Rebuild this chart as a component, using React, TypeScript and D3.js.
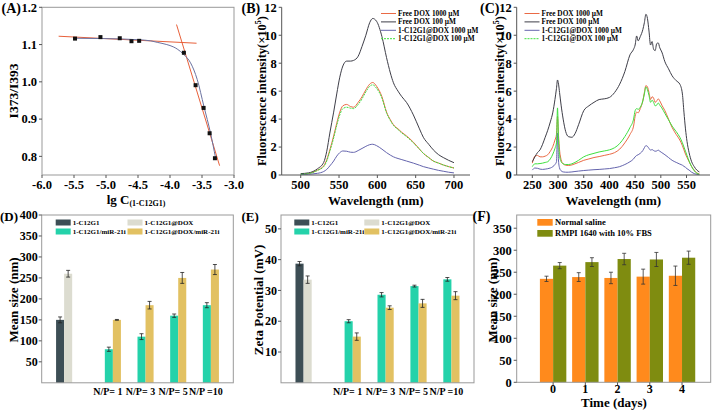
import React from 'react';
import * as d3 from 'd3';

const FONT = '"Liberation Serif", "Times New Roman", serif';

// ---------- Panel A data ----------
const cmcX = [-5.484, -5.087, -4.785, -4.602, -4.482, -3.783, -3.6, -3.475, -3.381, -3.298];
const cmcY = [1.116, 1.12, 1.117, 1.109, 1.11, 1.078, 0.991, 0.93, 0.862, 0.795];
const fitX = [-5.5, -5.0, -4.5, -4.3, -4.2, -4.05, -3.95, -3.887, -3.783, -3.679, -3.574, -3.47, -3.366, -3.287];
const fitY = [1.117, 1.116, 1.113, 1.11, 1.106, 1.1, 1.094, 1.088, 1.073, 1.051, 1.006, 0.934, 0.862, 0.795];
const tan1X = [-5.74, -3.585];
const tan1Y = [1.1224, 1.1036];
const tan2X = [-3.898, -3.225];
const tan2Y = [1.1537, 0.775];
const aYTicks = [0.8, 0.9, 1.0, 1.1, 1.2];
const aXTicks = [-6.0, -5.5, -5.0, -4.5, -4.0, -3.5, -3.0];

// ---------- Panel B data ----------
const specLabels = ['Free DOX 1000 \u00b5M', 'Free DOX 100 \u00b5M', '1-C12G1@DOX 1000 \u00b5M', '1-C12G1@DOX 100 \u00b5M'];
const bWave = [500, 510, 516, 522, 530, 534, 538, 543, 547, 551, 555, 560, 565, 569, 575, 580, 585, 590, 594, 599, 606, 612, 617, 621, 627, 632, 638, 647, 655, 660, 667, 673, 680, 686, 693, 700];
const bFree1000 = [0.05, 0.1, 0.2, 0.35, 0.65, 1.1, 1.8, 2.8, 3.7, 4.5, 4.95, 5.05, 4.9, 4.85, 5.2, 5.6, 6.1, 6.5, 6.62, 6.35, 5.6, 4.5, 3.95, 3.6, 3.3, 3.05, 2.8, 2.35, 1.85, 1.55, 1.25, 1.0, 0.85, 0.72, 0.6, 0.5];
const bFree100 = [0.1, 0.15, 0.25, 0.45, 0.9, 1.7, 3.0, 4.5, 5.8, 7.0, 7.8, 8.15, 8.15, 8.2, 8.5, 9.2, 10.0, 10.9, 11.2, 11.0, 9.9, 8.4, 7.3, 6.6, 6.0, 5.6, 5.2, 4.3, 3.3, 2.7, 2.2, 1.8, 1.45, 1.25, 1.05, 0.88];
const bNano1000 = [0.03, 0.05, 0.08, 0.12, 0.25, 0.4, 0.65, 1.0, 1.35, 1.6, 1.72, 1.7, 1.63, 1.62, 1.75, 1.9, 2.05, 2.17, 2.2, 2.1, 1.85, 1.6, 1.42, 1.3, 1.18, 1.1, 1.0, 0.85, 0.7, 0.6, 0.5, 0.42, 0.33, 0.27, 0.2, 0.15];
const bNano100 = [0.05, 0.1, 0.18, 0.33, 0.6, 1.0, 1.7, 2.65, 3.55, 4.3, 4.75, 4.85, 4.78, 4.75, 5.05, 5.45, 5.95, 6.35, 6.45, 6.2, 5.5, 4.45, 3.9, 3.55, 3.25, 3.0, 2.75, 2.3, 1.85, 1.55, 1.25, 1.0, 0.85, 0.72, 0.6, 0.5];
const bXTicks = [500, 550, 600, 650, 700];
const specYTicks = [0, 2, 4, 6, 8, 10, 12];

// ---------- Panel C data ----------
const cWave = [250, 255, 260, 265, 270, 275, 280, 285, 290, 294, 297, 299, 301, 303, 306, 310, 315, 320, 327, 333, 340, 350, 360, 370, 380, 390, 400, 410, 420, 430, 440, 447, 450, 453, 456, 460, 465, 468, 471, 474, 477, 480, 483, 486, 489, 492, 495, 498, 502, 508, 515, 522, 530, 537, 542, 545, 548, 551, 555, 560, 565, 570, 575];
const cFree100 = [0.95, 1.3, 1.6, 1.8, 2.2, 2.7, 3.2, 3.8, 4.5, 5.4, 6.2, 6.8, 6.5, 5.9, 5.0, 4.0, 3.1, 2.75, 2.7, 2.95, 3.6, 4.6, 4.95, 5.2, 5.4, 5.45, 5.55, 5.9, 6.5, 7.4, 8.6, 9.0, 9.3, 9.95, 9.6, 9.9, 10.4, 10.9, 11.5, 11.2, 10.3, 9.3, 9.55, 9.0, 8.9, 9.4, 9.45, 9.1, 8.8, 8.1, 7.6, 7.1, 6.75, 6.5, 5.8, 4.5, 3.3, 2.4, 1.6, 0.95, 0.6, 0.35, 0.22];
const cFree1000 = [0.85, 1.35, 1.4, 1.3, 1.3, 1.35, 1.45, 1.7, 2.05, 2.5, 2.9, 4.2, 2.8, 1.8, 1.1, 0.8, 0.7, 0.68, 0.72, 0.8, 0.9, 1.05, 1.15, 1.25, 1.32, 1.4, 1.48, 1.6, 1.85, 2.3, 2.9, 3.5, 4.2, 4.5, 4.45, 4.75, 5.3, 5.9, 6.4, 6.3, 5.9, 5.4, 5.6, 5.5, 5.2, 5.3, 5.45, 5.3, 5.0, 4.6, 4.0, 3.4, 2.9, 2.5, 2.1, 1.8, 1.5, 1.25, 0.95, 0.6, 0.35, 0.15, 0.08];
const cNano100 = [0.6, 0.8, 0.8, 0.82, 0.85, 0.9, 0.95, 1.15, 1.5, 1.9, 2.3, 4.8, 2.5, 1.4, 0.95, 0.8, 0.75, 0.75, 0.8, 0.9, 1.05, 1.3, 1.45, 1.55, 1.65, 1.72, 1.8, 1.95, 2.25, 2.75, 3.4, 4.0, 4.6, 4.75, 4.7, 4.85, 5.3, 5.8, 6.3, 6.1, 5.7, 5.2, 5.35, 5.2, 4.95, 5.0, 5.15, 5.0, 4.8, 4.4, 3.95, 3.5, 3.1, 2.7, 2.3, 2.0, 1.7, 1.4, 1.0, 0.6, 0.3, 0.12, 0.05];
const cNano1000 = [0.35, 0.5, 0.48, 0.42, 0.4, 0.42, 0.45, 0.5, 0.6, 0.75, 0.95, 3.0, 1.0, 0.5, 0.3, 0.22, 0.2, 0.2, 0.22, 0.25, 0.28, 0.32, 0.35, 0.38, 0.4, 0.43, 0.46, 0.52, 0.6, 0.75, 0.95, 1.15, 1.3, 1.4, 1.45, 1.55, 1.75, 1.95, 2.1, 2.05, 1.9, 1.78, 1.82, 1.75, 1.7, 1.72, 1.78, 1.7, 1.6, 1.45, 1.25, 1.05, 0.9, 0.78, 0.7, 0.62, 0.55, 0.45, 0.35, 0.2, 0.1, 0.05, 0.02];
const cXTicks = [250, 300, 350, 400, 450, 500, 550];

// ---------- Panel D / E data ----------
const npGroups = ['G0', 'N/P= 1', 'N/P= 3', 'N/P= 5', 'N/P =10'];
const npSeries = ['1-C12G1', '1-C12G1@DOX', '1-C12G1/miR-21i', '1-C12G1@DOX/miR-21i'];
const dSizeBare = [150, null, null, null, null];
const dSizeDox = [260, null, null, null, null];
const dSizeMir = [null, 80, 110, 160, 185];
const dSizeDoxMir = [null, 150, 185, 250, 270];
const dErrBare = [7, 0, 0, 0, 0];
const dErrDox = [8, 0, 0, 0, 0];
const dErrMir = [0, 5, 7, 4, 6];
const dErrDoxMir = [0, 1, 9, 13, 12];
const dYTicks = [50, 100, 150, 200, 250, 300, 350, 400];

const eZetaBare = [38.7, null, null, null, null];
const eZetaDox = [33.5, null, null, null, null];
const eZetaMir = [null, 20, 28.6, 31.4, 33.6];
const eZetaDoxMir = [null, 15, 24.4, 25.8, 28.3];
const eErrBare = [0.7, 0, 0, 0, 0];
const eErrDox = [1.2, 0, 0, 0, 0];
const eErrMir = [0, 0.5, 0.7, 0.3, 0.6];
const eErrDoxMir = [0, 1.2, 0.6, 1.3, 1.3];
const eYTicks = [10, 20, 30, 40, 50];

// ---------- Panel F data ----------
const fDays = ['0', '1', '2', '3', '4'];
const fSeries = ['Normal saline', 'RMPI 1640 with 10% FBS'];
const fSaline = [235, 239, 237, 240, 242];
const fSalineErr = [6, 10, 13, 17, 22];
const fRpmi = [265, 273, 280, 279, 283];
const fRpmiErr = [7, 10, 13, 16, 15];
const fYTicks = [0, 50, 100, 150, 200, 250, 300, 350];

const AXIS = '#555';
const BOX = '#999';
const C_RED = '#ea6a45';
const C_DARK = '#3e3e48';
const C_BLUE = '#6464ad';
const C_GREEN = '#3fe03f';
const NP_COLORS = ['#3d4e55', '#dcdcd0', '#24d2aa', '#e2c162'];
const F_COLORS = ['#ff8a1c', '#7f8c10'];

type Sc = d3.ScaleLinear<number, number>;

function YAxis({ y, x, ticks, fmt, fs = 12.5, len = 3, gap = 2 }: { y: Sc; x: number; ticks: number[]; fmt: (v: number) => string; fs?: number; len?: number; gap?: number }) {
  return (
    <g>
      {ticks.map((t) => (
        <g key={t}>
          <line x1={x - len} x2={x} y1={y(t)} y2={y(t)} stroke={AXIS} strokeWidth={1} />
          <text x={x - len - gap} y={y(t)} dy="0.35em" textAnchor="end" fontSize={fs}>{fmt(t)}</text>
        </g>
      ))}
    </g>
  );
}

function XAxis({ xs, y, ticks, fmt, fs = 12.5, len = 3 }: { xs: Sc; y: number; ticks: number[]; fmt: (v: number) => string; fs?: number; len?: number }) {
  return (
    <g>
      {ticks.map((t) => (
        <g key={t}>
          <line x1={xs(t)} x2={xs(t)} y1={y} y2={y + len} stroke={AXIS} strokeWidth={1} />
          <text x={xs(t)} y={y + len + 10.5} textAnchor="middle" fontSize={fs}>{fmt(t)}</text>
        </g>
      ))}
    </g>
  );
}

function PanelA() {
  const x = d3.scaleLinear().domain([-6, -3]).range([42, 234]);
  const y = d3.scaleLinear().domain([0.75, 1.2]).range([175, 7.3]);
  const fit = d3.line<number>().x((_, i) => x(fitX[i])).y((d) => y(d)).curve(d3.curveMonotoneX);
  return (
    <g>
      <rect x={42} y={y(1.2)} width={192} height={175 - y(1.2)} fill="none" stroke={BOX} />
      <line x1={x(tan1X[0])} y1={y(tan1Y[0])} x2={x(tan1X[1])} y2={y(tan1Y[1])} stroke="#e8603a" strokeWidth={1} />
      <line x1={x(tan2X[0])} y1={y(tan2Y[0])} x2={x(tan2X[1])} y2={y(tan2Y[1])} stroke="#e8603a" strokeWidth={1} />
      <path d={fit(fitY) || ''} fill="none" stroke="#6b72a0" strokeWidth={1} />
      {cmcX.map((v, i) => (
        <rect key={i} x={x(v) - 2} y={y(cmcY[i]) - 2} width={4} height={4} fill="#111" />
      ))}
      <YAxis y={y} x={42} ticks={aYTicks} fmt={(v) => v.toFixed(1)} />
      <XAxis xs={x} y={175} ticks={aXTicks} fmt={(v) => v.toFixed(1)} />
      <text x={13} y={91} transform="rotate(-90 13 91)" dy="0.35em" textAnchor="middle" fontSize={13.5}>I373/I393</text>
      <text x={136} y={204} textAnchor="middle" fontSize={13}>lg C<tspan fontSize={8} dy={2}>(1-C12G1)</tspan></text>
      <text x={1.5} y={13} fontSize={14}>(A)</text>
    </g>
  );
}

function SpecLegend({ x0, y0, colors, dashes }: { x0: number; y0: number; colors: string[]; dashes: (string | undefined)[] }) {
  return (
    <g>
      {specLabels.map((l, i) => (
        <g key={l}>
          <line x1={x0} x2={x0 + 15} y1={y0 + i * 8.4} y2={y0 + i * 8.4} stroke={colors[i]} strokeWidth={1} strokeDasharray={dashes[i]} />
          <text x={x0 + 17} y={y0 + i * 8.4} dy="0.35em" fontSize={7.3}>{l}</text>
        </g>
      ))}
    </g>
  );
}

function SpecPanel({ x0, x1, dom, waves, series, colors, dashes, ticks, letter, letterX, ylabX, legX }: any) {
  const x = d3.scaleLinear().domain(dom).range([x0, x1]);
  const y = d3.scaleLinear().domain([0, 12]).range([175, 7.3]);
  return (
    <g>
      {series.map((s: number[], i: number) => {
        const ln = d3.line<number>().x((_, j) => x(waves[j])).y((d) => y(d)).curve(d3.curveMonotoneX);
        return <path key={i} d={ln(s) || ''} fill="none" stroke={colors[i]} strokeWidth={1} strokeDasharray={dashes[i]} />;
      })}
      <line x1={x0} x2={x0} y1={y(12)} y2={175} stroke={AXIS} />
      <line x1={x0} x2={x1} y1={175} y2={175} stroke={AXIS} />
      <YAxis y={y} x={x0} ticks={specYTicks} fmt={(v) => String(v)} />
      <XAxis xs={x} y={175} ticks={ticks} fmt={(v) => String(v)} />
      <text x={ylabX} y={91} transform={`rotate(-90 ${ylabX} 91)`} dy="0.35em" textAnchor="middle" fontSize={12.5}>
        Fluorescence intensity(×10<tspan fontSize={8} dy={-5}>5</tspan><tspan dy={5}>)</tspan>
      </text>
      <text x={(x0 + x1) / 2} y={205} textAnchor="middle" fontSize={13}>Wavelength (nm)</text>
      <text x={letterX} y={13} fontSize={14}>{letter}</text>
      <SpecLegend x0={legX} y0={13.5} colors={[C_RED, C_DARK, C_BLUE, C_GREEN]} dashes={[undefined, undefined, undefined, '2,1']} />
    </g>
  );
}

function NpPanel({ x0, x1, dom, yTicks, values, errs, letter, letterX, ylab, ylabX, legX, legX2 }: any) {
  const yTop = 215;
  const yBot = 382.8;
  const y = d3.scaleLinear().domain(dom).range([yBot, yTop]);
  const gx = d3.scaleBand<string>().domain(npGroups).range([x0, x1]).paddingInner(0.015).paddingOuter(0.44);
  const sx = d3.scaleBand<string>().domain(npSeries).range([0, gx.bandwidth()]);
  return (
    <g>
      {npSeries.map((s, si) =>
        npGroups.map((g, gi) => {
          const v = values[si][gi];
          if (v == null) return null;
          const bx = (gx(g) as number) + (sx(s) as number);
          const bw = sx.bandwidth();
          const e = errs[si][gi];
          const cx = bx + bw / 2;
          return (
            <g key={s + g}>
              <rect x={bx} y={y(v)} width={bw} height={yBot - y(v)} fill={NP_COLORS[si]} />
              <line x1={cx} x2={cx} y1={y(v + e)} y2={y(v - e)} stroke="#222" strokeWidth={0.8} />
              <line x1={cx - 2} x2={cx + 2} y1={y(v + e)} y2={y(v + e)} stroke="#222" strokeWidth={0.8} />
              <line x1={cx - 2} x2={cx + 2} y1={y(v - e)} y2={y(v - e)} stroke="#222" strokeWidth={0.8} />
            </g>
          );
        })
      )}
      <rect x={x0} y={yTop} width={x1 - x0} height={yBot - yTop} fill="none" stroke={BOX} />
      <YAxis y={y} x={x0} ticks={yTicks} fmt={(v) => String(v)} fs={12} gap={1} />
      {npGroups.slice(1).map((g) => (
        <text key={g} x={(gx(g) as number) + gx.bandwidth() / 2 + 3} y={395} textAnchor="middle" fontSize={10}>{g}</text>
      ))}
      <text x={ylabX} y={300} transform={`rotate(-90 ${ylabX} 300)`} dy="0.35em" textAnchor="middle" fontSize={13}>{ylab}</text>
      <text x={letterX} y={221} fontSize={13}>{letter}</text>
      {npSeries.map((s, i) => {
        const lx = i % 2 === 0 ? legX : legX2;
        const ly = i < 2 ? 219.5 : 228.5;
        return (
          <g key={s}>
            <rect x={lx} y={ly} width={15} height={6} fill={NP_COLORS[i]} />
            <text x={lx + 17} y={ly + 3} dy="0.35em" fontSize={7}>{s}</text>
          </g>
        );
      })}
    </g>
  );
}

function PanelF() {
  const x0 = 516.7, x1 = 710.7, yTop = 215, yBot = 382.3;
  const y = d3.scaleLinear().domain([0, 380]).range([yBot, yTop]);
  const gx = d3.scaleBand<string>().domain(fDays).range([x0, x1]).paddingInner(0.18).paddingOuter(0.6).align(0.6);
  const sx = d3.scaleBand<string>().domain(fSeries).range([0, gx.bandwidth()]);
  const vals = [fSaline, fRpmi];
  const errs = [fSalineErr, fRpmiErr];
  return (
    <g>
      {fSeries.map((s, si) =>
        fDays.map((d, di) => {
          const v = vals[si][di];
          const e = errs[si][di];
          const bx = (gx(d) as number) + (sx(s) as number);
          const bw = sx.bandwidth();
          const cx = bx + bw / 2;
          return (
            <g key={s + d}>
              <rect x={bx} y={y(v)} width={bw} height={yBot - y(v)} fill={F_COLORS[si]} />
              <line x1={cx} x2={cx} y1={y(v + e)} y2={y(v - e)} stroke="#333" strokeWidth={0.8} />
              <line x1={cx - 2} x2={cx + 2} y1={y(v + e)} y2={y(v + e)} stroke="#333" strokeWidth={0.8} />
              <line x1={cx - 2} x2={cx + 2} y1={y(v - e)} y2={y(v - e)} stroke="#333" strokeWidth={0.8} />
            </g>
          );
        })
      )}
      <rect x={x0} y={yTop} width={x1 - x0} height={yBot - yTop} fill="none" stroke={BOX} />
      <YAxis y={y} x={x0} ticks={fYTicks} fmt={(v) => String(v)} />
      {fDays.map((d) => {
        const cx = (gx(d) as number) + gx.bandwidth() / 2;
        return (
          <g key={d}>
            <line x1={cx} x2={cx} y1={yBot} y2={yBot + 3} stroke={AXIS} />
            <text x={cx} y={393} textAnchor="middle" fontSize={12}>{d}</text>
          </g>
        );
      })}
      <text x={614} y={407} textAnchor="middle" fontSize={13}>Time (days)</text>
      <text x={492} y={300} transform="rotate(-90 492 300)" dy="0.35em" textAnchor="middle" fontSize={13}>Mean size (nm)</text>
      <text x={472.5} y={221} fontSize={14}>(F)</text>
      {fSeries.map((s, i) => (
        <g key={s}>
          <rect x={537.3} y={219 + i * 11} width={15.4} height={6.7} fill={F_COLORS[i]} />
          <text x={555} y={222.4 + i * 11} dy="0.35em" fontSize={8.5}>{s}</text>
        </g>
      ))}
    </g>
  );
}

export default function App() {
  return (
    <svg width={713} height={410} style={{ position: 'absolute', left: 0, top: 0, background: '#fff' }} fontFamily={FONT} fontWeight="bold">
      <rect width={713} height={410} fill="#fff" />
      <PanelA />
      <SpecPanel x0={281.7} x1={470} dom={[475.2, 720.9]} waves={bWave}
        series={[bFree1000, bFree100, bNano1000, bNano100]} colors={[C_RED, C_DARK, C_BLUE, C_GREEN]} dashes={[undefined, undefined, undefined, '2,1']}
        ticks={bXTicks} letter="(B)" letterX={241.5} ylabX={262} legX={381} />
      <SpecPanel x0={516.7} x1={710} dom={[219.6, 595.7]} waves={cWave}
        series={[cFree1000, cFree100, cNano1000, cNano100]} colors={[C_RED, C_DARK, C_BLUE, C_GREEN]} dashes={[undefined, undefined, undefined, undefined]}
        ticks={cXTicks} letter="(C)" letterX={480} ylabX={500} legX={524.5} />
      <NpPanel x0={41.7} x1={233.3} dom={[0, 400]} yTicks={dYTicks}
        values={[dSizeBare, dSizeDox, dSizeMir, dSizeDoxMir]} errs={[dErrBare, dErrDox, dErrMir, dErrDoxMir]}
        letter="(D)" letterX={0} ylab="Mean size (nm)" ylabX={13} legX={55.7} legX2={127.5} />
      <NpPanel x0={281} x1={474} dom={[0, 54.5]} yTicks={eYTicks}
        values={[eZetaBare, eZetaDox, eZetaMir, eZetaDoxMir]} errs={[eErrBare, eErrDox, eErrMir, eErrDoxMir]}
        letter="(E)" letterX={241.5} ylab="Zeta Potential (mV)" ylabX={258.5} legX={294.3} legX2={364.3} />
      <PanelF />
    </svg>
  );
}
